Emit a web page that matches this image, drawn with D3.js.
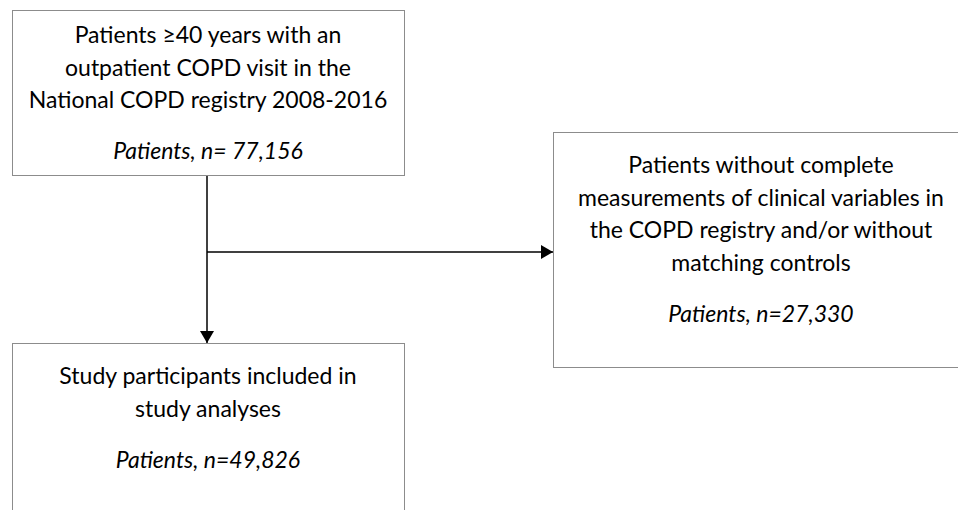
<!DOCTYPE html>
<html>
<head>
<script src="https://d3js.org/d3.v7.min.js"></script>
<style>
  body { margin: 0; background: #fff; }
  .box { fill: #fff; stroke: #8c8c8c; stroke-width: 1px; }
  .txt { font-family: Lato, "Open Sans", sans-serif; font-size: 23px; fill: #000; text-anchor: middle; }
  .link { fill: none; stroke: #000; stroke-width: 1.5px; }
</style>
</head>
<body>
<script>
// flowchart contents
const boxIds = ["source", "excluded", "included"];
const boxLines = [
  ["Patients \u226540 years with an", "outpatient COPD visit in the", "National COPD registry 2008-2016"],
  ["Patients without complete", "measurements of clinical variables in", "the COPD registry and/or without", "matching controls"],
  ["Study participants included in", "study analyses"]
];
const boxCounts = ["Patients, n= 77,156", "Patients, n=27,330", "Patients, n=49,826"];

const width = 958, height = 510;

// layout in page pixels (excluded and included boxes run off the page edge)
const boxes = {
  source:   {x0: 12,  y0: 10,  x1: 404, y1: 175, first: 43},
  excluded: {x0: 553, y0: 132, x1: 969, y1: 367, first: 173},
  included: {x0: 12,  y0: 343, x1: 404, y1: 530, first: 384}
};
const lineGap = 32.5, countGap = 51;

const svg = d3.select("body").append("svg")
  .attr("width", width)
  .attr("height", height);

svg.append("defs").append("marker")
  .attr("id", "arrow")
  .attr("viewBox", "0 0 12 14")
  .attr("refX", 12).attr("refY", 7)
  .attr("markerWidth", 12).attr("markerHeight", 14)
  .attr("markerUnits", "userSpaceOnUse")
  .attr("orient", "auto")
  .append("path")
  .attr("d", "M0,0L12,7L0,14Z")
  .attr("fill", "#000");

const data = boxIds.map((id, i) => ({id, lines: boxLines[i], count: boxCounts[i], ...boxes[id]}));

const g = svg.selectAll("g.node").data(data).join("g").attr("class", "node");

g.append("rect")
  .attr("class", "box")
  .attr("x", d => d.x0 + 0.5)
  .attr("y", d => d.y0 + 0.5)
  .attr("width", d => d.x1 - d.x0)
  .attr("height", d => d.y1 - d.y0);

g.each(function(d) {
  const cx = (d.x0 + d.x1) / 2;
  const sel = d3.select(this);
  d.lines.forEach((t, j) => {
    sel.append("text").attr("class", "txt")
      .attr("x", cx).attr("y", d.first + j * lineGap).text(t);
  });
  sel.append("text").attr("class", "txt")
    .attr("x", cx)
    .attr("y", d.first + (d.lines.length - 1) * lineGap + countGap)
    .style("font-style", "italic")
    .text(d.count);
});

// connectors
const trunkX = 207, branchY = 252;
const s = boxes.source, e = boxes.excluded, inc = boxes.included;

svg.append("path").attr("class", "link")
  .attr("d", d3.line()([[trunkX, s.y1 + 1], [trunkX, inc.y0]]))
  .attr("marker-end", "url(#arrow)");

svg.append("path").attr("class", "link")
  .attr("d", d3.line()([[trunkX, branchY], [e.x0, branchY]]))
  .attr("marker-end", "url(#arrow)");
</script>
</body>
</html>
